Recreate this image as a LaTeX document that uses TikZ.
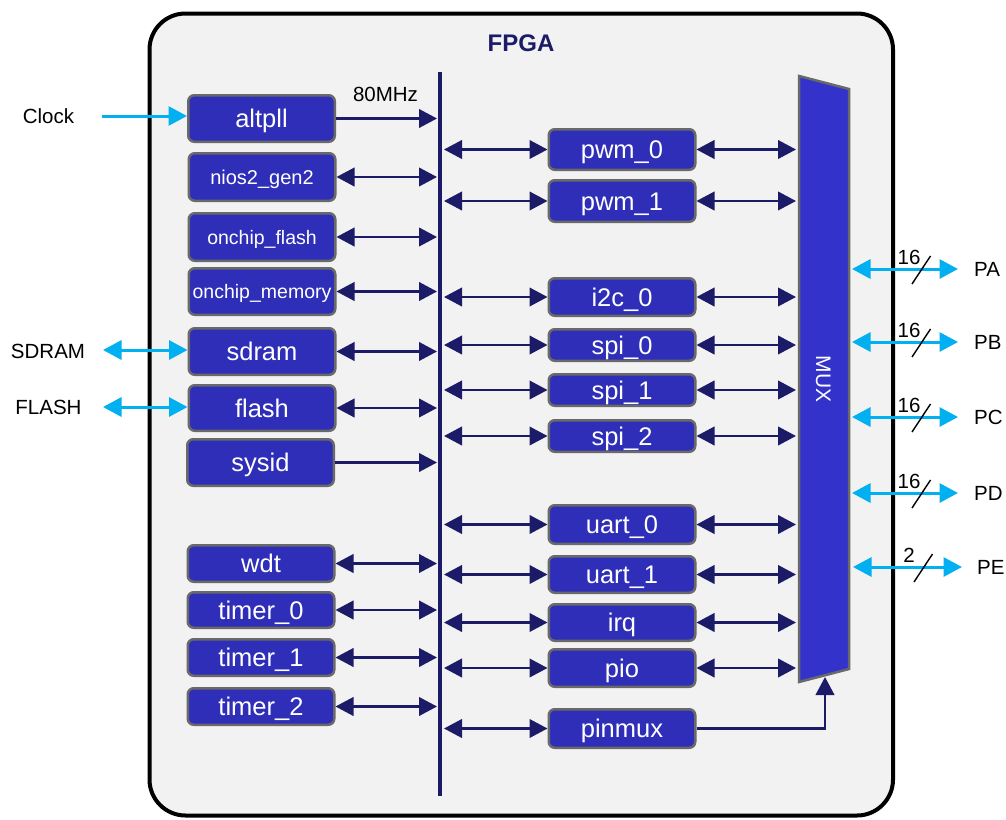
\documentclass[tikz,border=0pt]{standalone}
\usepackage{fontspec}
\setmainfont{Liberation Sans}
\usetikzlibrary{arrows.meta}
\definecolor{navy}{RGB}{27,27,104}
\definecolor{blkfill}{RGB}{46,46,184}
\definecolor{muxfill}{RGB}{51,51,204}
\definecolor{bordergray}{RGB}{105,105,105}
\definecolor{cyanc}{RGB}{0,176,240}
\definecolor{bgc}{RGB}{242,242,242}
\begin{document}
\begin{tikzpicture}[x=1pt,y=-1pt,
  blk/.style={draw=bordergray, line width=2.5pt, fill=blkfill, rounded corners=6pt,
    text=white, font=\fontsize{25.5}{30}\selectfont, inner sep=0pt,
    minimum width=146.5pt, text height=18.3pt, text depth=0pt},
  smalltxt/.style={font=\fontsize{20}{24}\selectfont, text height=14.3pt},
  tinytxt/.style={font=\fontsize{19.5}{24}\selectfont, text height=14pt},
  lbl/.style={font=\fontsize{20.5}{24}\selectfont, inner sep=0pt, text height=14.7pt, text depth=0pt},
  bidir/.style={draw=navy, line width=2.4pt, {Triangle[length=18pt,width=18.5pt]}-{Triangle[length=18pt,width=18.5pt]}},
  unidir/.style={draw=navy, line width=2.4pt, -{Triangle[length=18pt,width=18.5pt]}},
  cbidir/.style={draw=cyanc, line width=3pt, {Triangle[length=18.5pt,width=19pt]}-{Triangle[length=18.5pt,width=19pt]}},
  cunidir/.style={draw=cyanc, line width=3pt, -{Triangle[length=18.5pt,width=19pt]}},
  slashmark/.style={draw=black, line width=1.4pt}
]
\useasboundingbox (0,0) rectangle (1006,819);

% FPGA box
\draw[line width=4pt, fill=bgc, rounded corners=36pt] (149.5,13.5) rectangle (893,815.5);
\node[font=\fontsize{24}{28}\selectfont\bfseries, text=navy, inner sep=0pt, text height=17.2pt, text depth=0pt] (fpga) at (521,42.5) {FPGA};

% bus
\coordinate (busT) at (440,72);
\coordinate (busB) at (440,796);
\draw[navy, line width=4pt] (busT) -- (busB);
\coordinate (busL) at (437,0);
\coordinate (busR) at (444,0);

% MUX
\coordinate (muxTL) at (799,76);
\coordinate (muxTR) at (849,89);
\coordinate (muxBR) at (849,669);
\coordinate (muxBL) at (799,682);
\draw[draw=bordergray, line width=2.5pt, fill=muxfill] (muxTL) -- (muxTR) -- (muxBR) -- (muxBL) -- cycle;
\node[lbl, text=white, font=\fontsize{21}{24}\selectfont, text height=15pt, rotate=-90] (mux) at (823.5,379) {MUX};
\coordinate (muxL) at (796,0);
\coordinate (muxB) at (825,677);

% left blocks
\node[blk, minimum height=46.5pt] (altpll) at (261.5,118.5) {altpll};
\node[blk, smalltxt, minimum height=47.5pt] (nios) at (262,177) {nios2\_gen2};
\node[blk, tinytxt, minimum height=47.5pt] (oflash) at (262,237) {onchip\_flash};
\node[blk, tinytxt, minimum height=46.5pt] (omem) at (262,291.5) {onchip\_memory};
\node[blk, minimum height=46.5pt] (sdram) at (262,351.5) {sdram};
\node[blk, minimum height=45.5pt] (flash) at (262,408) {flash};
\node[blk, minimum height=46.5pt] (sysid) at (260.5,462.5) {sysid};
\node[blk, minimum height=36.5pt] (wdt) at (261,563.5) {wdt};
\node[blk, minimum height=35.5pt] (timer0) at (261,610) {timer\_0};
\node[blk, minimum height=36.5pt] (timer1) at (261,657.5) {timer\_1};
\node[blk, minimum height=36.5pt] (timer2) at (261,706.5) {timer\_2};

% middle blocks
\node[blk, minimum height=40.5pt] (pwm0) at (622,149.5) {pwm\_0};
\node[blk, minimum height=41.5pt] (pwm1) at (622,201) {pwm\_1};
\node[blk, minimum height=37.5pt] (i2c0) at (622,297) {i2c\_0};
\node[blk, minimum height=31.5pt] (spi0) at (622,345) {spi\_0};
\node[blk, minimum height=31.5pt] (spi1) at (622,390) {spi\_1};
\node[blk, minimum height=31.5pt] (spi2) at (622,436) {spi\_2};
\node[blk, minimum height=38.5pt] (uart0) at (622,524.5) {uart\_0};
\node[blk, minimum height=36.5pt] (uart1) at (622,574.5) {uart\_1};
\node[blk, minimum height=36.5pt] (irq) at (622,622.5) {irq};
\node[blk, minimum height=37.5pt] (pio) at (622,668) {pio};
\node[blk, minimum height=38.5pt] (pinmux) at (622,728.5) {pinmux};

% left block connectors
\node[lbl] (mhz) at (385.5,94) {80MHz};
\draw[unidir] (altpll.east) -- (altpll.east -| busL);
\foreach \n in {nios,oflash,omem,sdram,flash,wdt,timer0,timer1,timer2}
  \draw[bidir] (\n.east) -- (\n.east -| busL);
\draw[unidir] (sysid.east) -- (sysid.east -| busL);

% middle connectors
\foreach \n in {pwm0,pwm1,i2c0,spi0,spi1,spi2,uart0,uart1,irq,pio}{
  \draw[bidir] (busR |- \n.west) -- (\n.west);
  \draw[bidir] (\n.east) -- (\n.east -| muxL);
}
\draw[bidir] (busR |- pinmux.west) -- (pinmux.west);
\draw[unidir] (pinmux.east) -| (muxB);

% external left
\node[lbl] (clk) at (48.5,116) {Clock};
\node[lbl] (sdr) at (48,351) {SDRAM};
\node[lbl] (fls) at (48.5,407) {FLASH};
\coordinate (clkS) at (102,116);
\coordinate (sdrS) at (103,350);
\coordinate (flsS) at (103,407);
\draw[cunidir] (clkS) -- (clkS -| altpll.west);
\draw[cbidir] (sdrS) -- (sdrS -| sdram.west);
\draw[cbidir] (flsS) -- (flsS -| flash.west);

% right ports
\foreach \p/\y/\w/\xl/\xr/\xs/\lx in {PA/269/16/852/958/912/974, PB/342/16/852/958/912/974, PC/417/16/852/958/912/974, PD/493/16/852/958/912/974, PE/567/2/853/962/914/977}{
  \coordinate (\p L) at (\xl,\y);
  \coordinate (\p R) at (\xr,\y);
  \node[lbl, anchor=west] (\p) at (\lx,\y) {\p};
  \draw[cbidir] (\p L) -- (\p R);
  \draw[slashmark] (\xs,\y+15) -- (\xs+18.5,\y-13);
  \node[lbl] (\p w) at (909,\y-12) {\w};
}
\end{tikzpicture}
\end{document}
